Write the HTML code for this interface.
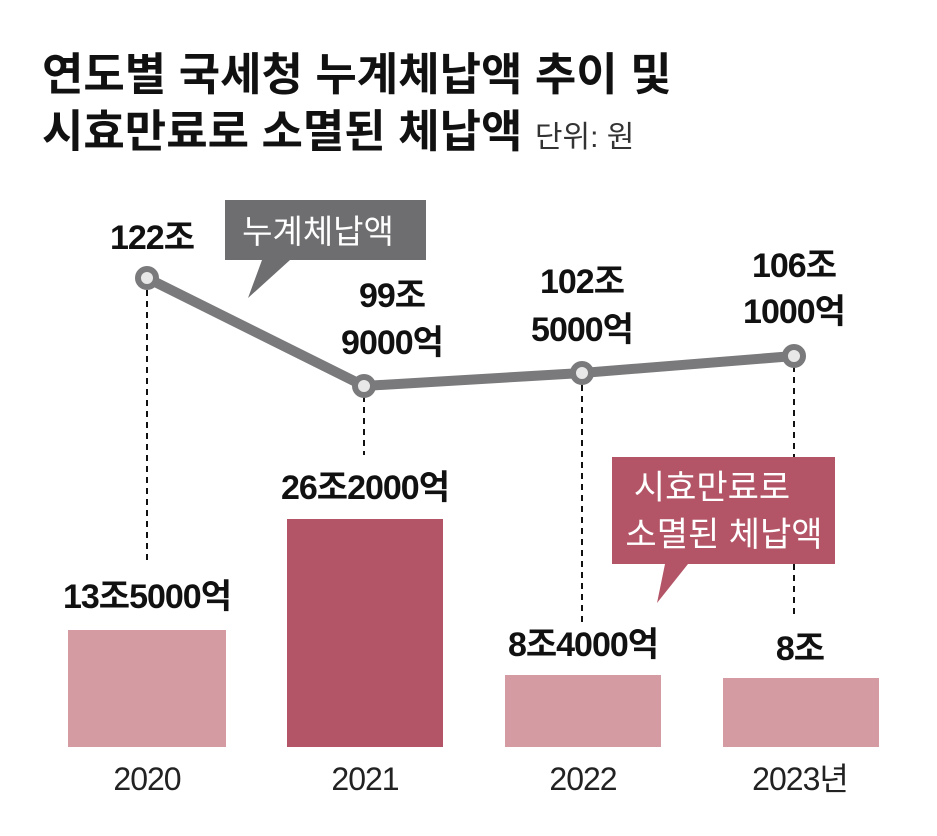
<!DOCTYPE html>
<html><head><meta charset="utf-8"><style>
body{margin:0;background:#fff;}
svg text{font-family:"Liberation Sans","Noto Sans CJK KR",sans-serif;}
</style></head><body>
<svg width="937" height="831" viewBox="0 0 937 831" xmlns="http://www.w3.org/2000/svg">
<text x="42" y="90" font-size="45" font-weight="bold" fill="#111">연도별 국세청 누계체납액 추이 및</text>
<text x="42" y="147" font-size="45" font-weight="bold" fill="#111">시효만료로 소멸된 체납액 <tspan font-size="30" font-weight="normal" fill="#333">단위: 원</tspan></text>

<g stroke="#111" stroke-width="2" stroke-dasharray="6,5">
<line x1="147" y1="290" x2="147" y2="560"/>
<line x1="364" y1="396" x2="364" y2="455"/>
<line x1="582" y1="385" x2="582" y2="625"/>
<line x1="794" y1="366" x2="794" y2="615"/>
</g>

<rect x="68" y="630" width="158" height="117" fill="#d59ba2"/>
<rect x="287" y="519" width="156" height="228" fill="#b35566"/>
<rect x="505" y="675" width="156" height="72" fill="#d59ba2"/>
<rect x="723" y="678" width="156" height="69" fill="#d59ba2"/>

<polygon points="225,200 426,200 426,260 290,260 248,298 262,260 225,260" fill="#6e6e70"/>
<text x="318" y="243" font-size="33" fill="#fff" text-anchor="middle">누계체납액</text>

<polygon points="612,457 835,457 835,564 688,564 657,603 665,564 612,564" fill="#b35566"/>
<text x="712" y="499" font-size="34" fill="#fff" text-anchor="middle">시효만료로</text>
<text x="724" y="546" font-size="34" fill="#fff" text-anchor="middle">소멸된 체납액</text>

<polyline points="147,278 364,386 582,373 794,356" fill="none" stroke="#7a7a7c" stroke-width="10"/>
<g fill="#e8e8e8" stroke="#7a7a7c" stroke-width="6">
<circle cx="147" cy="278" r="9"/><circle cx="364" cy="386" r="9"/>
<circle cx="582" cy="373" r="9"/><circle cx="794" cy="356" r="9"/>
</g>

<g font-size="34" font-weight="bold" fill="#111" text-anchor="middle" letter-spacing="-1">
<text x="152" y="249">122조</text>
<text x="392" y="307">99조</text>
<text x="392" y="354">9000억</text>
<text x="582" y="293">102조</text>
<text x="582" y="341">5000억</text>
<text x="794" y="277">106조</text>
<text x="794" y="323">1000억</text>
<text x="147" y="608">13조5000억</text>
<text x="365" y="499">26조2000억</text>
<text x="583" y="656">8조4000억</text>
<text x="800" y="660">8조</text>
</g>
<g font-size="32" fill="#222" text-anchor="middle" letter-spacing="-1">
<text x="147" y="790">2020</text>
<text x="365" y="790">2021</text>
<text x="583" y="790">2022</text>
<text x="800" y="790">2023년</text>
</g>
</svg>
</body></html>
